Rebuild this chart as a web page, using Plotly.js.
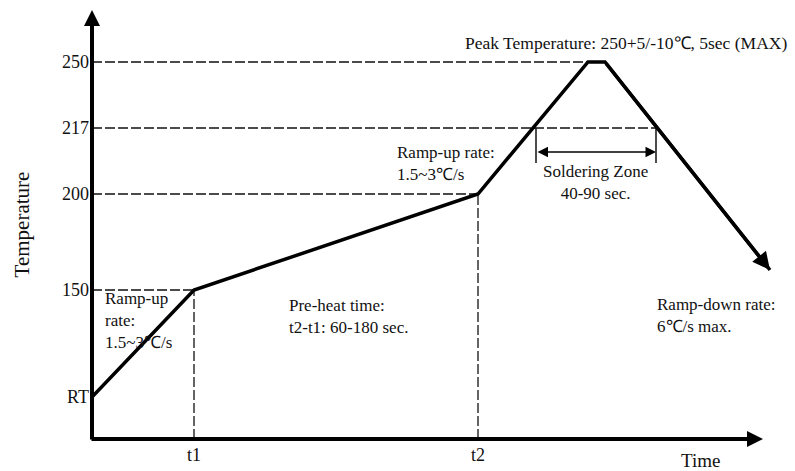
<!DOCTYPE html>
<html>
<head>
<meta charset="utf-8">
<script src="https://cdn.plot.ly/plotly-3.0.1.min.js"></script>
<style>html,body{margin:0;padding:0;background:#fff;}#chart{width:795px;height:471px;}</style>
</head>
<body>
<div id="chart"></div>
<script>
// ---- Data (schematic units) ----
const tempTickLabels = ['RT', '150', '200', '217', '250'];
const tempLevels = [21, 74.5, 122.5, 155.5, 188.5];
const timeTickLabels = ['t1', 't2'];
const timeMarks = [51, 193];
const profileTime = [0, 51, 193, 248, 256.5, 339];
const profileTemp = [21, 74.5, 122.5, 188.5, 188.5, 84.5];
const solderZoneStart = 222;
const solderZoneEnd = 282;
const axisTipTime = 335.5;
const axisTipTemp = 214.5;

const FONT = 'Liberation Serif, Times New Roman, serif';
const traces = [];

// Horizontal dashed guides: from temp axis to the profile
const guideEnds = [51, 193, 282, 248]; // 150, 200, 217, 250
const guideLevels = tempLevels.slice(1);
guideLevels.forEach((lv, i) => {
  traces.push({x: [0, guideEnds[i]], y: [lv, lv], mode: 'lines', hoverinfo: 'skip',
    line: {color: '#111', width: 1.3, dash: '10px,3px'}});
});
// Vertical dashed guides at t1, t2
timeMarks.forEach((t, i) => {
  traces.push({x: [t, t], y: [0, tempLevels[i + 1]], mode: 'lines', hoverinfo: 'skip',
    line: {color: '#111', width: 1.3, dash: '10px,3px'}});
});
// Soldering zone brackets
[solderZoneStart, solderZoneEnd].forEach(xv => {
  traces.push({x: [xv, xv], y: [tempLevels[3], 138], mode: 'lines', hoverinfo: 'skip',
    line: {color: '#111', width: 1.5}});
});
// Profile curve
traces.push({x: profileTime, y: profileTemp, mode: 'lines', hoverinfo: 'skip',
  line: {color: '#000', width: 3.5}});

const annotations = [];
// Axis arrows
annotations.push({x: axisTipTime, y: 0, ax: -1, ay: 0, axref: 'x', ayref: 'y', xref: 'x', yref: 'y',
  text: '', showarrow: true, arrowhead: 2, arrowsize: 0.8, arrowwidth: 4, arrowcolor: '#000', standoff: 0});
annotations.push({x: 0, y: axisTipTemp, ax: 0, ay: -1, axref: 'x', ayref: 'y', xref: 'x', yref: 'y',
  text: '', showarrow: true, arrowhead: 2, arrowsize: 0.8, arrowwidth: 4, arrowcolor: '#000', standoff: 0});
// Ramp-down arrow head
const n = profileTime.length;
annotations.push({x: profileTime[n - 1], y: profileTemp[n - 1], ax: profileTime[n - 2], ay: profileTemp[n - 2],
  axref: 'x', ayref: 'y', xref: 'x', yref: 'y', text: '', showarrow: true, arrowhead: 2, arrowsize: 1,
  arrowwidth: 3.5, arrowcolor: '#000', standoff: 0});
// Soldering zone double arrow
annotations.push({x: solderZoneEnd, y: 143.5, ax: solderZoneStart, ay: 143.5, axref: 'x', ayref: 'y',
  xref: 'x', yref: 'y', text: '', showarrow: true, arrowhead: 2, startarrowhead: 2, arrowside: 'end+start',
  arrowsize: 1.4, startarrowsize: 1.4, arrowwidth: 1.5, arrowcolor: '#000', standoff: 0, startstandoff: 0});

function label(text, x, y, xanchor, size) {
  annotations.push({x: x, y: y, xref: 'x', yref: 'y', text: text, showarrow: false,
    xanchor: xanchor || 'left', yanchor: 'middle', align: xanchor === 'center' ? 'center' : 'left',
    font: {family: FONT, size: size || 17, color: '#111'}});
}
label('Peak Temperature: 250+5/-10℃, 5sec (MAX)', 267, 198, 'center', 17.5);
label('Ramp-up rate:<br>1.5~3℃/s', 151.5, 138, 'left');
label('Soldering Zone<br>40-90 sec.', 251.5, 128.5, 'center');
label('Ramp-up<br>rate:<br>1.5~3℃/s', 5.5, 59.5, 'left');
label('Pre-heat time:<br>t2-t1: 60-180 sec.', 97.5, 61.5, 'left');
label('Ramp-down rate:<br>6℃/s max.', 281.5, 62, 'left');
// x-axis title placed like the reference (right side, below the axis)
annotations.push({x: 304, y: -21 / 429, xref: 'x', yref: 'paper', text: 'Time', showarrow: false,
  xanchor: 'center', yanchor: 'middle', font: {family: FONT, size: 19, color: '#111'}});

const layout = {
  width: 795, height: 471,
  margin: {l: 92, r: 20, t: 10, b: 32},
  paper_bgcolor: '#fff', plot_bgcolor: '#fff',
  showlegend: false,
  xaxis: {range: [0, 341.5], showgrid: false, zeroline: false, showline: false,
    tickvals: timeMarks, ticktext: timeTickLabels, ticks: '', ticklabelstandoff: 3,
    tickfont: {family: FONT, size: 18, color: '#111'}, fixedrange: true},
  yaxis: {range: [0, 214.5], showgrid: false, zeroline: false, showline: false,
    tickvals: tempLevels, ticktext: tempTickLabels, ticks: '', ticklabelstandoff: 2,
    tickfont: {family: FONT, size: 18, color: '#111'}, fixedrange: true,
    title: {text: 'Temperature', font: {family: FONT, size: 21, color: '#111'}, standoff: 26}},
  annotations: annotations
};

Plotly.newPlot('chart', traces, layout, {displayModeBar: false, staticPlot: true});
</script>
</body>
</html>
